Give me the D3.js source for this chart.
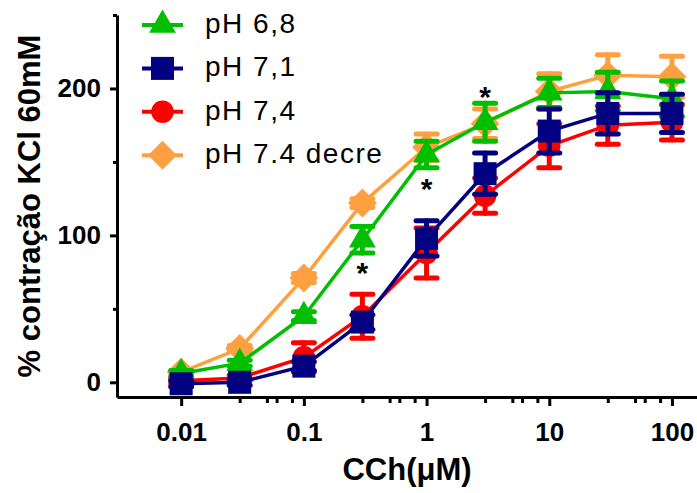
<!DOCTYPE html>
<html>
<head>
<meta charset="utf-8">
<script src="https://cdn.jsdelivr.net/npm/d3@7"></script>
<style>
  body { margin: 0; background: #fff; }
  svg { display: block; font-family: "Liberation Sans", Arial, sans-serif; }
</style>
</head>
<body>
<div id="chart"></div>
<script>
// doses de carbacol (µM)
const doses = [0.01, 0.03, 0.1, 0.3, 1, 3, 10, 30, 100];
const seriesNames = ["pH 6,8", "pH 7,1", "pH 7,4", "pH 7.4 decre"];

// média e erro de cada grupo
const ph68 = [6, 13, 45, 97, 155, 177, 197, 198, 193];
const ph68Err = [2, 2, 3, 9, 9, 13, 10, 13, 12];
const ph71 = [-1, 0, 11, 41, 98, 142, 171, 183, 183];
const ph71Err = [2, 2, 3, 5, 12, 14, 15, 14, 13];
const ph74 = [1, 3, 17, 45, 88, 127, 161, 175, 177];
const ph74Err = [2, 2, 10, 15, 17, 12, 15, 13, 12];
const ph74d = [7, 23, 71, 122, 160, 176, 198, 209, 208];
const ph74dErr = [1, 2, 3, 3, 9, 10, 12, 14, 14];

// asteriscos de significância
const starDoses = [0.3, 1, 3];
const starValues = [79, 136, 199];

const xMajor = [0.01, 0.1, 1, 10, 100];
const xMinorSteps = [3, 5, 6, 8];
const yMajor = [0, 100, 200];
const yMinor = [50, 150, 250];

const W = 697, H = 493;
const plotLeft = 117, plotRight = 697, plotTop = 15, plotBottom = 397;

const svg = d3.select("#chart").append("svg")
  .attr("width", W).attr("height", H);

const xScale = d3.scaleLog().domain([0.003, 160]).range([plotLeft, plotRight]);
const yScale = d3.scaleLinear().domain([-10, 250]).range([plotBottom, plotTop]);

// séries (ordem de desenho: laranja, vermelho, verde, azul)
const series = [
  { name: seriesNames[3], values: ph74d, err: ph74dErr, color: "#ffa040", shape: "diamond" },
  { name: seriesNames[2], values: ph74, err: ph74Err, color: "#ff0000", shape: "circle" },
  { name: seriesNames[0], values: ph68, err: ph68Err, color: "#00bf00", shape: "triangle" },
  { name: seriesNames[1], values: ph71, err: ph71Err, color: "#000080", shape: "square" }
];

function symbolPath(shape) {
  if (shape === "triangle") return d3.symbol(d3.symbolTriangle, 310)();
  if (shape === "square") return d3.symbol(d3.symbolSquare, 529)();
  if (shape === "circle") return d3.symbol(d3.symbolCircle, 400)();
  // losango = quadrado girado
  return d3.symbol(d3.symbolSquare, 420)();
}

// eixos
const xMinor = [];
xMajor.slice(0, 4).forEach(function (d) {
  xMinorSteps.forEach(function (s) { xMinor.push(d * s); });
});

svg.append("g")
  .attr("transform", "translate(0," + plotBottom + ")")
  .call(d3.axisBottom(xScale).tickValues(xMinor).tickFormat("").tickSize(6).tickSizeOuter(0))
  .call(function (g) { g.select(".domain").remove(); })
  .selectAll("line").attr("stroke-width", 3);

const xAxis = svg.append("g")
  .attr("transform", "translate(0," + plotBottom + ")")
  .call(d3.axisBottom(xScale).tickValues(xMajor).tickFormat(d3.format("~g"))
    .tickSize(9).tickSizeOuter(0).tickPadding(17));
xAxis.select(".domain").attr("stroke-width", 3);
xAxis.selectAll("line").attr("stroke-width", 3);
xAxis.selectAll("text").attr("font-size", 26).attr("font-weight", "bold")
  .attr("font-family", "Liberation Sans, Arial, sans-serif").attr("fill", "#000");

svg.append("g")
  .attr("transform", "translate(" + plotLeft + ",0)")
  .call(d3.axisLeft(yScale).tickValues(yMinor).tickFormat("").tickSize(4).tickSizeOuter(0))
  .call(function (g) { g.select(".domain").remove(); })
  .selectAll("line").attr("stroke-width", 3);

const yAxis = svg.append("g")
  .attr("transform", "translate(" + plotLeft + ",0)")
  .call(d3.axisLeft(yScale).tickValues(yMajor).tickSize(7).tickSizeOuter(0).tickPadding(9));
yAxis.select(".domain").attr("stroke-width", 3);
yAxis.selectAll("line").attr("stroke-width", 3);
yAxis.selectAll("text").attr("font-size", 26).attr("font-weight", "bold")
  .attr("font-family", "Liberation Sans, Arial, sans-serif").attr("fill", "#000");

// títulos dos eixos
svg.append("text")
  .attr("x", (plotLeft + plotRight) / 2).attr("y", 480)
  .attr("text-anchor", "middle").attr("font-size", 31).attr("font-weight", "bold")
  .text("CCh(\u03bcM)");

svg.append("text")
  .attr("transform", "translate(40," + (plotTop + plotBottom) / 2 + ") rotate(-90)")
  .attr("text-anchor", "middle").attr("font-size", 31).attr("font-weight", "bold")
  .text("% contração KCl 60mM");

// linhas, barras de erro e símbolos
const line = d3.line()
  .x(function (d, i) { return xScale(doses[i]); })
  .y(function (d) { return yScale(d); });

const capHalf = 10.5;

series.forEach(function (s) {
  const g = svg.append("g");
  const rows = doses.map(function (d, i) { return { x: d, v: s.values[i], e: s.err[i] }; });

  const bars = g.selectAll(".err").data(rows).enter().append("g")
    .attr("stroke", s.color).attr("stroke-width", 5).attr("stroke-linecap", "round");
  bars.append("line")
    .attr("x1", function (d) { return xScale(d.x); }).attr("x2", function (d) { return xScale(d.x); })
    .attr("y1", function (d) { return yScale(d.v + d.e); }).attr("y2", function (d) { return yScale(d.v - d.e); });
  bars.append("line")
    .attr("x1", function (d) { return xScale(d.x) - capHalf; }).attr("x2", function (d) { return xScale(d.x) + capHalf; })
    .attr("y1", function (d) { return yScale(d.v + d.e); }).attr("y2", function (d) { return yScale(d.v + d.e); });
  bars.append("line")
    .attr("x1", function (d) { return xScale(d.x) - capHalf; }).attr("x2", function (d) { return xScale(d.x) + capHalf; })
    .attr("y1", function (d) { return yScale(d.v - d.e); }).attr("y2", function (d) { return yScale(d.v - d.e); });

  g.append("path")
    .datum(s.values)
    .attr("fill", "none")
    .attr("stroke", s.color)
    .attr("stroke-width", 3.5)
    .attr("d", line);

  g.selectAll(".pt").data(rows).enter().append("path")
    .attr("d", symbolPath(s.shape))
    .attr("fill", s.color)
    .attr("transform", function (d) {
      return "translate(" + xScale(d.x) + "," + yScale(d.v) + ")" + (s.shape === "diamond" ? " rotate(45)" : "");
    });
});

// asteriscos
svg.selectAll(".star").data(starDoses).enter().append("text")
  .attr("x", function (d) { return xScale(d); })
  .attr("y", function (d, i) { return yScale(starValues[i]) + 17; })
  .attr("text-anchor", "middle").attr("font-size", 30).attr("font-weight", "bold")
  .text("*");

// legenda
const legendOrder = [series[2], series[3], series[1], series[0]];
const legend = svg.append("g");
legendOrder.forEach(function (s, i) {
  const cy = 25 + i * 43.4;
  legend.append("line")
    .attr("x1", 142).attr("x2", 183).attr("y1", cy).attr("y2", cy)
    .attr("stroke", s.color).attr("stroke-width", 4);
  legend.append("path")
    .attr("d", symbolPath(s.shape))
    .attr("fill", s.color)
    .attr("transform", "translate(162.5," + cy + ")" + (s.shape === "diamond" ? " rotate(45)" : ""));
  legend.append("text")
    .attr("x", 205).attr("y", cy + 8)
    .attr("font-size", 28).attr("letter-spacing", 1.5)
    .text(s.name);
});
</script>
</body>
</html>
